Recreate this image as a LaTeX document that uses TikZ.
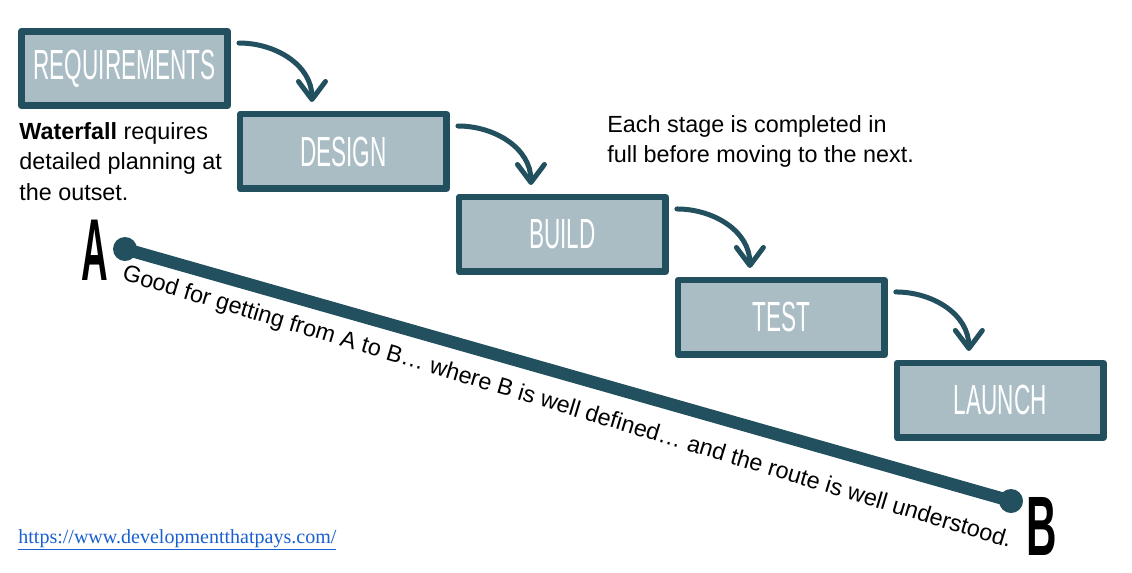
\documentclass[tikz,border=0pt]{standalone}
\usepackage{fontspec}
\setmainfont{Liberation Sans}
\newfontfamily\linkfont{Liberation Serif}
\usepackage{tikz}
\usetikzlibrary{calc}
\usetikzlibrary{positioning}
\usetikzlibrary{arrows.meta}

\definecolor{inkteal}{RGB}{34,80,95}
\definecolor{stagefill}{RGB}{170,189,197}
\definecolor{linkblue}{RGB}{26,95,208}

\newcommand{\stagelabel}[1]{\scalebox{0.535}[1]{#1}}
\newcommand{\pointlabel}[2]{\scalebox{#1}[1]{\bfseries #2}}

\begin{document}
\begin{tikzpicture}[
		x=0.02cm, y=-0.02cm,
		stage/.style={rectangle,draw=inkteal,fill=stagefill,line width=0.13cm,line join=round,
			minimum width=4.13cm,minimum height=1.49cm,inner sep=0pt,
			text=white,font=\fontsize{24}{24}\selectfont},
		flow/.style={draw=inkteal,line width=0.1cm,line cap=round,
			-{Straight Barb[length=0.36cm,width=0.54cm,round]}},
		note/.style={inner sep=0pt,align=left,font=\fontsize{13.3}{17.4}\selectfont}
		]
		\useasboundingbox (0,0) rectangle (1132,572);

		% the five stages
		\node[stage] (req) at (124.5,68.5) {\stagelabel{REQUIREMENTS}};
		\node[stage, below right=0.04cm and 0.12cm of req.south east] (design) {\stagelabel{DESIGN}};
		\node[stage, below right=0.04cm and 0.12cm of design.south east] (build) {\stagelabel{BUILD}};
		\node[stage, below right=0.04cm and 0.12cm of build.south east] (test) {\stagelabel{TEST}};
		\node[stage, below right=0.04cm and 0.12cm of test.south east] (launch) {\stagelabel{LAUNCH}};

		\draw[flow] ($(req.north east)+(8,15)$) to[out=0,in=90] ($(design.north west)+(75,-9)$);
		\draw[flow] ($(design.north east)+(8,15)$) to[out=0,in=90] ($(build.north west)+(75,-9)$);
		\draw[flow] ($(build.north east)+(8,15)$) to[out=0,in=90] ($(test.north west)+(75,-9)$);
		\draw[flow] ($(test.north east)+(8,15)$) to[out=0,in=90] ($(launch.north west)+(75,-9)$);

		\node[note, anchor=north west] (waterfall) at (19,122)
			{\textbf{Waterfall} requires\\detailed planning at\\the outset.};
		\node[note, anchor=north west] (eachstage) at (607,115)
			{Each stage is completed in\\full before moving to the next.};

		% from A to B
		\coordinate (pa) at (125,249);
		\coordinate (pb) at (1011,501);
		\draw[inkteal, line width=0.25cm, line cap=round] (pa) -- (pb);
		\fill[inkteal] (pa) circle (12) (pb) circle (12);
		\node[inner sep=0pt, font=\fontsize{50}{50}\selectfont] (alabel) at (95,250) {\pointlabel{0.42}{A}};
		\node[inner sep=0pt, font=\fontsize{48}{48}\selectfont] (blabel) at (1042,526) {\pointlabel{0.5}{B}};
		\node[note, rotate=-16.8] (route) at (567,408)
			{Good for getting from A to B… where B is well defined… and the route is well understood.};

		\node[inner sep=0pt, anchor=west, text=linkblue, font=\linkfont\fontsize{11.4}{14}\selectfont] (link) at (18,540)
			{\underline{https://www.developmentthatpays.com/}};
	\end{tikzpicture}
\end{document}
